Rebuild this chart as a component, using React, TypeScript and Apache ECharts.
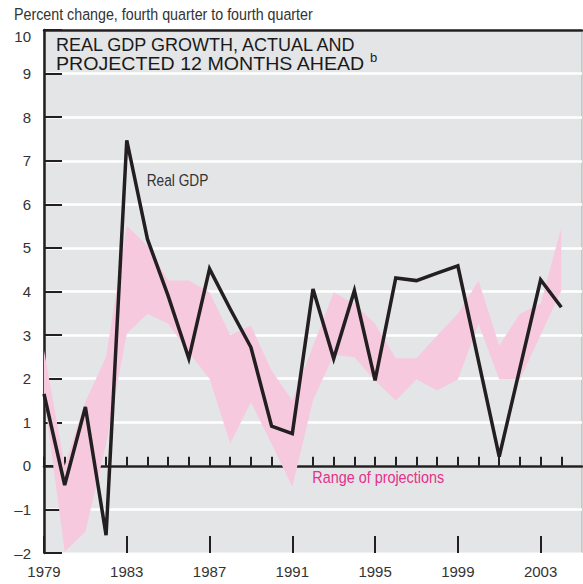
import React, { useEffect, useRef } from "react";
import * as echarts from "echarts";

const years = [
  "1979", "1980", "1981", "1982", "1983", "1984", "1985", "1986", "1987",
  "1988", "1989", "1990", "1991", "1992", "1993", "1994", "1995", "1996",
  "1997", "1998", "1999", "2000", "2001", "2002", "2003", "2004", "2005",
];

const realGdp = [
  1.65, -0.44, 1.35, -1.59, 7.47, 5.2, 3.9, 2.46, 4.52, 3.6, 2.72, 0.91, 0.74,
  4.06, 2.46, 4.02, 1.96, 4.31, 4.25, 4.42, 4.59, 2.4, 0.21, 2.24, 4.27, 3.64,
];

const projUpper = [
  2.65, 0.0, 1.47, 2.5, 5.51, 5.05, 4.25, 4.25, 3.98, 3.0, 3.22, 2.19, 1.5,
  2.75, 3.98, 3.72, 3.26, 2.47, 2.47, 2.99, 3.49, 4.25, 2.76, 3.49, 3.72, 5.47,
];

const projLower = [
  1.6, -1.97, -1.51, 0.5, 3.03, 3.49, 3.26, 2.6, 2.0, 0.51, 1.46, 0.5, -0.48,
  1.5, 2.55, 2.49, 1.95, 1.5, 1.98, 1.73, 1.98, 3.26, 1.98, 1.98, 3.0, 4.02,
];

const FONT = "'Liberation Sans', Arial, sans-serif";

export default function App() {
  const ref = useRef<HTMLDivElement>(null);

  useEffect(() => {
    if (!ref.current) return;
    const chart = echarts.init(ref.current, undefined, { renderer: "svg" });
    const bandWidth = projUpper.map((u, i) => +(u - projLower[i]).toFixed(3));

    chart.setOption({
      animation: false,
      backgroundColor: "#ffffff",
      grid: {
        left: 44,
        right: 1,
        top: 30,
        bottom: 31,
        show: true,
        backgroundColor: "#e4e5e7",
        borderColor: "#a8a8a8",
        borderWidth: 1,
      },
      xAxis: [
        {
          type: "category",
          data: years,
          boundaryGap: false,
          position: "bottom",
          axisLine: { show: true, lineStyle: { color: "#231f20", width: 2.5 } },
          axisTick: {
            show: true,
            inside: true,
            length: 9,
            interval: (i: number) => i < 26,
            lineStyle: { color: "#231f20", width: 2 },
          },
          axisLabel: {
            show: true,
            interval: (i: number) => i % 4 === 0,
            margin: 11,
            fontFamily: FONT,
            fontSize: 15,
            color: "#333333",
          },
          splitLine: { show: false },
        },
        {
          type: "category",
          data: years,
          boundaryGap: false,
          position: "bottom",
          axisLine: { show: false },
          axisTick: {
            show: true,
            inside: true,
            length: 17,
            interval: (i: number) => i % 4 === 0,
            lineStyle: { color: "#231f20", width: 2 },
          },
          axisLabel: { show: false },
          splitLine: { show: false },
        },
        {
          type: "category",
          data: years,
          boundaryGap: false,
          position: "top",
          axisLine: { show: true, lineStyle: { color: "#231f20", width: 2.5 } },
          axisTick: { show: false },
          axisLabel: { show: false },
          splitLine: { show: false },
        },
      ],
      yAxis: {
        type: "value",
        min: -2,
        max: 10,
        interval: 1,
        axisLine: { show: true, lineStyle: { color: "#231f20", width: 2.5 } },
        axisTick: {
          show: true,
          inside: true,
          length: 18,
          lineStyle: { color: "#231f20", width: 2 },
        },
        axisLabel: {
          margin: 13,
          fontFamily: FONT,
          fontSize: 15,
          color: "#333333",
          formatter: (v: number) =>
            v === 10 ? "{a|10}" : v < 0 ? "\u2013" + Math.abs(v) : String(v),
          rich: {
            a: {
              fontFamily: FONT,
              fontSize: 15,
              color: "#333333",
              padding: [12, 0, 0, 0],
            },
          },
        },
        splitLine: { show: true, lineStyle: { color: "#ffffff", width: 2.5 } },
      },
      series: [
        {
          name: "lower",
          type: "line",
          data: projLower,
          stack: "band",
          stackStrategy: "all",
          showSymbol: false,
          symbol: "none",
          lineStyle: { width: 0, opacity: 0 },
          silent: true,
          z: 1,
        },
        {
          name: "Range of projections",
          type: "line",
          data: bandWidth,
          stack: "band",
          stackStrategy: "all",
          showSymbol: false,
          symbol: "none",
          lineStyle: { width: 0, opacity: 0 },
          areaStyle: { color: "#f7c9df", opacity: 1 },
          silent: true,
          z: 1,
        },
        {
          name: "Real GDP",
          type: "line",
          data: realGdp,
          showSymbol: false,
          symbol: "none",
          lineStyle: { color: "#231f20", width: 3.5, join: "miter" },
          z: 3,
        },
      ],
      graphic: [
        {
          type: "text",
          x: 14,
          y: 14.2,
          scaleX: 0.865,
          style: {
            text: "Percent change, fourth quarter to fourth quarter",
            fontFamily: FONT,
            fontSize: 16.5,
            fill: "#333333",
            verticalAlign: "middle",
          },
        },
        {
          type: "text",
          x: 56,
          y: 44.7,
          z: 10,
          style: {
            text: "REAL GDP GROWTH, ACTUAL AND",
            fontFamily: FONT,
            fontSize: 18,
            fill: "#1a1a1a",
            verticalAlign: "middle",
          },
        },
        {
          type: "text",
          x: 56,
          y: 64.2,
          z: 10,
          scaleX: 1.09,
          style: {
            text: "PROJECTED 12 MONTHS AHEAD",
            fontFamily: FONT,
            fontSize: 18,
            fill: "#1a1a1a",
            verticalAlign: "middle",
          },
        },
        {
          type: "text",
          x: 370,
          y: 57,
          z: 10,
          style: {
            text: "b",
            fontFamily: FONT,
            fontSize: 13,
            fill: "#1a1a1a",
            verticalAlign: "middle",
          },
        },
        {
          type: "text",
          x: 146.7,
          y: 179.7,
          z: 10,
          scaleX: 0.83,
          style: {
            text: "Real GDP",
            fontFamily: FONT,
            fontSize: 16.5,
            fill: "#333333",
            verticalAlign: "middle",
          },
        },
        {
          type: "text",
          x: 312.3,
          y: 476.7,
          z: 10,
          scaleX: 0.872,
          style: {
            text: "Range of projections",
            fontFamily: FONT,
            fontSize: 16.5,
            fill: "#e6308a",
            verticalAlign: "middle",
          },
        },
      ],
    });

    return () => chart.dispose();
  }, []);

  return (
    <div
      ref={ref}
      style={{ position: "fixed", left: 0, top: 0, width: 583, height: 584 }}
    />
  );
}
